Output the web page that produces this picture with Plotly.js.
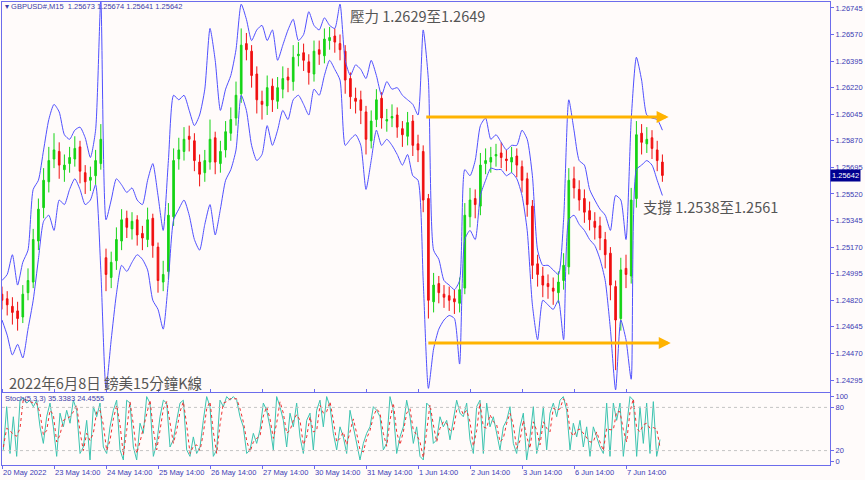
<!DOCTYPE html>
<html><head><meta charset="utf-8">
<script src="https://cdn.plot.ly/plotly-3.0.1.min.js"></script>
<style>html,body{margin:0;padding:0;background:#fffbfa;}#chart{width:865px;height:480px;}</style>
</head><body><div id="chart"></div>
<script>
// ---- data (GBPUSD M15, aggregated bars) ----
const tickLabels = ['20 May 2022','23 May 14:00','24 May 14:00','25 May 14:00','26 May 14:00','27 May 14:00','30 May 14:00','31 May 14:00','1 Jun 14:00','2 Jun 14:00','3 Jun 14:00','6 Jun 14:00','7 Jun 14:00'];
const tickBars = [0,10,20,30,40,50,60,70,80,90,100,110,120];
const priceTicks = [1.24295,1.24470,1.24645,1.24820,1.24995,1.25170,1.25345,1.25520,1.25695,1.25870,1.26045,1.26220,1.26395,1.26570,1.26745];

const openP = [1.2486,1.2483,1.2478,1.2475,1.2471,1.2487,1.2494,1.2521,1.2543,1.2560,
1.2575,1.2580,1.2568,1.2572,1.2575,1.2583,1.2566,1.2561,1.2564,1.2572,
1.2510,1.2497,1.2508,1.2521,1.2536,1.2529,1.2535,1.2526,1.2522,1.2536,
1.2517,1.2494,1.2501,1.2537,1.2575,1.2580,1.2590,1.2587,1.2573,1.2566,
1.2573,1.2589,1.2572,1.2581,1.2592,1.2602,1.2618,1.2651,1.2646,1.2631,
1.2613,1.2610,1.2623,1.2613,1.2621,1.2629,1.2626,1.2643,1.2645,1.2639,
1.2631,1.2647,1.2643,1.2653,1.2656,1.2651,1.2646,1.2628,1.2615,1.2614,
1.2606,1.2587,1.2601,1.2615,1.2600,1.2602,1.2604,1.2595,1.2590,1.2600,
1.2585,1.2580,1.2549,1.2481,1.2493,1.2486,1.2485,1.2483,1.2480,1.2490,
1.2537,1.2549,1.2544,1.2572,1.2573,1.2577,1.2579,1.2575,1.2573,1.2577,
1.2570,1.2562,1.2544,1.2506,1.2498,1.2493,1.2490,1.2487,1.2495,1.2504,
1.2562,1.2555,1.2549,1.2541,1.2534,1.2531,1.2522,1.2513,1.2491,1.2470,
1.2503,1.2498,1.2549,1.2592,1.2585,1.2589,1.2581,1.2573];
const highP = [1.2491,1.2488,1.2484,1.2481,1.2492,1.2503,1.2529,1.2549,1.2569,1.2583,
1.2592,1.2586,1.2578,1.2583,1.2590,1.2587,1.2571,1.2570,1.2581,1.2598,
1.2516,1.2514,1.2530,1.2542,1.2541,1.2540,1.2538,1.2531,1.2543,1.2539,
1.2520,1.2508,1.2546,1.2582,1.2589,1.2596,1.2597,1.2592,1.2578,1.2581,
1.2601,1.2593,1.2587,1.2600,1.2609,1.2626,1.2661,1.2658,1.2650,1.2636,
1.2620,1.2630,1.2628,1.2629,1.2636,1.2635,1.2650,1.2652,1.2651,1.2644,
1.2653,1.2653,1.2661,1.2662,1.2661,1.2657,1.2650,1.2632,1.2622,1.2620,
1.2610,1.2607,1.2621,1.2619,1.2608,1.2611,1.2609,1.2600,1.2606,1.2604,
1.2591,1.2584,1.2552,1.2500,1.2498,1.2492,1.2491,1.2489,1.2497,1.2546,
1.2556,1.2555,1.2579,1.2582,1.2583,1.2585,1.2586,1.2581,1.2583,1.2582,
1.2574,1.2566,1.2548,1.2512,1.2504,1.2499,1.2497,1.2501,1.2513,1.2569,
1.2570,1.2561,1.2555,1.2547,1.2540,1.2537,1.2527,1.2517,1.2495,1.2510,
1.2512,1.2556,1.2600,1.2598,1.2596,1.2594,1.2587,1.2578];
const lowP = [1.2476,1.2472,1.2466,1.2462,1.2467,1.2482,1.2490,1.2515,1.2536,1.2553,
1.2569,1.2562,1.2560,1.2566,1.2570,1.2559,1.2552,1.2554,1.2558,1.2568,
1.2488,1.2490,1.2502,1.2515,1.2523,1.2522,1.2518,1.2515,1.2517,1.2510,
1.2487,1.2488,1.2496,1.2531,1.2568,1.2574,1.2580,1.2567,1.2557,1.2560,
1.2568,1.2565,1.2566,1.2576,1.2587,1.2597,1.2612,1.2640,1.2622,1.2605,
1.2601,1.2604,1.2606,1.2608,1.2615,1.2619,1.2620,1.2636,1.2633,1.2624,
1.2626,1.2637,1.2638,1.2647,1.2645,1.2640,1.2618,1.2608,1.2605,1.2598,
1.2578,1.2582,1.2596,1.2595,1.2593,1.2596,1.2589,1.2583,1.2584,1.2577,
1.2573,1.2540,1.2470,1.2474,1.2480,1.2477,1.2475,1.2473,1.2474,1.2486,
1.2530,1.2536,1.2538,1.2565,1.2566,1.2570,1.2569,1.2567,1.2566,1.2563,
1.2553,1.2537,1.2496,1.2491,1.2484,1.2483,1.2479,1.2480,1.2489,1.2499,
1.2549,1.2541,1.2533,1.2528,1.2522,1.2515,1.2503,1.2482,1.2436,1.2462,
1.2490,1.2493,1.2543,1.2578,1.2579,1.2575,1.2567,1.2560];
const closeP = [1.2482,1.2479,1.2474,1.2470,1.2486,1.2495,1.2522,1.2542,1.2561,1.2574,
1.2581,1.2571,1.2571,1.2576,1.2582,1.2567,1.2560,1.2563,1.2574,1.2588,
1.2499,1.2507,1.2522,1.2535,1.2530,1.2534,1.2525,1.2523,1.2535,1.2518,
1.2495,1.2499,1.2538,1.2574,1.2581,1.2588,1.2588,1.2574,1.2565,1.2574,
1.2588,1.2573,1.2580,1.2593,1.2601,1.2617,1.2650,1.2647,1.2630,1.2614,
1.2611,1.2622,1.2614,1.2622,1.2628,1.2627,1.2642,1.2644,1.2640,1.2632,
1.2646,1.2644,1.2654,1.2655,1.2652,1.2647,1.2627,1.2616,1.2613,1.2607,
1.2588,1.2600,1.2614,1.2602,1.2601,1.2603,1.2596,1.2591,1.2599,1.2584,
1.2581,1.2548,1.2482,1.2492,1.2487,1.2484,1.2482,1.2481,1.2489,1.2538,
1.2548,1.2545,1.2571,1.2574,1.2576,1.2578,1.2576,1.2574,1.2576,1.2571,
1.2561,1.2545,1.2505,1.2499,1.2492,1.2491,1.2488,1.2494,1.2505,1.2561,
1.2556,1.2548,1.2540,1.2535,1.2530,1.2523,1.2512,1.2492,1.2469,1.2502,
1.2499,1.2548,1.2591,1.2586,1.2588,1.2582,1.2574,1.25642];

const bandUpper = [1.2495,1.2499,1.2512,1.2492,1.2507,1.2515,1.2555,1.2561,1.2581,1.2601,
1.2611,1.2606,1.2591,1.2588,1.2594,1.2596,1.2589,1.2576,1.2594,1.2680,
1.2535,1.2548,1.2562,1.2558,1.2553,1.2556,1.2548,1.2545,1.2561,1.2572,
1.2551,1.2528,1.2574,1.2617,1.2614,1.2617,1.2607,1.2597,1.2604,1.2621,
1.2661,1.2640,1.2607,1.2621,1.2630,1.2647,1.2677,1.2667,1.2653,1.2660,
1.2663,1.2653,1.2660,1.2640,1.2650,1.2660,1.2667,1.2653,1.2657,1.2672,
1.2663,1.2660,1.2668,1.2663,1.2661,1.2677,1.2640,1.2630,1.2637,1.2634,
1.2628,1.2640,1.2630,1.2617,1.2626,1.2621,1.2622,1.2617,1.2614,1.2611,
1.2604,1.2660,1.2627,1.2515,1.2509,1.2495,1.2492,1.2489,1.2495,1.2568,
1.2564,1.2574,1.2597,1.2602,1.2588,1.2591,1.2586,1.2581,1.2584,1.2584,
1.2594,1.2588,1.2564,1.2515,1.2505,1.2505,1.2502,1.2499,1.2535,1.2614,
1.2594,1.2574,1.2571,1.2555,1.2548,1.2542,1.2538,1.2528,1.2551,1.2548,
1.2522,1.2601,1.2642,1.2627,1.2604,1.2602,1.2601,1.2594];
const bandLower = [1.2469,1.2459,1.2446,1.2453,1.2444,1.2463,1.2482,1.2509,1.2534,1.2538,
1.2528,1.2548,1.2545,1.2555,1.2562,1.2555,1.2545,1.2548,1.2558,1.2502,
1.2424,1.2456,1.2486,1.2505,1.2501,1.2507,1.2512,1.2509,1.2502,1.2482,
1.2476,1.2463,1.2495,1.2535,1.2542,1.2548,1.2538,1.2522,1.2515,1.2532,
1.2545,1.2525,1.2542,1.2561,1.2568,1.2581,1.2617,1.2607,1.2584,1.2574,
1.2578,1.2597,1.2584,1.2594,1.2607,1.2601,1.2614,1.2617,1.2611,1.2604,
1.2621,1.2617,1.2630,1.2640,1.2634,1.2627,1.2584,1.2588,1.2591,1.2584,
1.2555,1.2574,1.2594,1.2584,1.2588,1.2584,1.2578,1.2571,1.2578,1.2564,
1.2561,1.2495,1.2424,1.2450,1.2463,1.2469,1.2472,1.2470,1.2440,1.2522,
1.2528,1.2522,1.2551,1.2561,1.2569,1.2568,1.2568,1.2564,1.2566,1.2562,
1.2551,1.2528,1.2479,1.2456,1.2482,1.2479,1.2476,1.2482,1.2456,1.2535,
1.2538,1.2532,1.2528,1.2522,1.2518,1.2509,1.2495,1.2463,1.2423,1.2469,
1.2456,1.2430,1.2568,1.2571,1.2574,1.2571,1.2561,1.2551];

const stochK = [21,81,16,67,12,90,93,86,90,81,
90,53,30,67,86,53,12,72,53,76,
58,90,76,16,25,62,7,81,67,86,
25,16,53,76,90,21,7,90,86,25,
7,58,44,95,86,12,30,67,90,86,
25,35,62,86,90,21,12,39,16,25,
62,95,81,12,21,90,81,95,90,95,
90,67,53,16,21,44,30,49,86,76,
53,21,95,81,62,25,72,53,86,39,
16,62,72,21,76,90,53,95,81,44,
21,53,39,16,76,53,35,7,30,44,
53,81,76,67,21,30,95,76,16,39,
53,90,67,30,53,
12,7,86,81,30,35,67,53,62,35,
62,90,72,67,86,35,16,81,90,16,
86,53,67,44,21,53,62,81,30,16,
53,72,7,39,81,16,39,81,21,72,
86,67,90,95,76,21,58,39,62,25,
53,12,53,39,25,16,86,12,86,62,
86,12,53,95,90,12,81,30,86,16,
88,12,35.34];
const stochD = [25,51,48,42,40,51,92,90,88,86,
86,72,42,48,76,70,32,42,62,64,
67,74,83,46,20,44,34,44,74,76,
56,20,34,64,83,56,14,48,88,56,
16,32,51,70,90,49,21,48,78,88,
56,30,48,74,88,56,16,26,28,20,
44,78,88,46,16,56,86,88,92,92,
92,78,60,34,18,32,37,40,68,81,
64,37,58,88,72,44,48,62,70,62,
28,39,67,46,48,83,72,74,88,62,
32,37,46,28,46,64,44,21,18,37,
48,67,78,72,44,26,62,86,46,28,
46,72,78,48,42,32,10,46,84,56,
32,51,60,58,48,48,76,81,70,76,
60,26,48,86,53,51,70,60,56,32,
37,58,72,56,23,34,62,40,23,60,
48,28,60,51,46,79,76,78,92,86,
48,40,48,50,44,39,32,32,46,32,
20,51,49,49,74,74,49,32,74,92,
51,46,56,58,51,52,50,24.46];

const resistanceLevel = 1.26027, supportLevel = 1.24539;
const lineStartBar = 81.3, lineEndBar = 128.2;
const lastPrice = 1.25642;

// ---- geometry helpers ----
const barIdx = closeP.map((_, i) => i);
const stochStep = 0.641;
const stochX = stochK.map((_, k) => 0.26 + k * stochStep);

const blue = '#5050ff', frame = '#6c6cec', tickCol = '#3c3cb4';
const traces = [
  {type:'scatter', mode:'lines', x:barIdx, y:bandUpper, line:{color:blue, width:1, shape:'spline', smoothing:0.6}, xaxis:'x', yaxis:'y', hoverinfo:'skip'},
  {type:'scatter', mode:'lines', x:barIdx, y:bandLower, line:{color:blue, width:1, shape:'spline', smoothing:0.6}, xaxis:'x', yaxis:'y', hoverinfo:'skip'},
  {type:'candlestick', x:barIdx, open:openP, high:highP, low:lowP, close:closeP, xaxis:'x', yaxis:'y',
   increasing:{line:{color:'#16d416', width:1}, fillcolor:'#16d416'},
   decreasing:{line:{color:'#f01010', width:1}, fillcolor:'#f01010'}, whiskerwidth:0},
  {type:'scatter', mode:'lines', x:stochX, y:stochK, line:{color:'#3cc4b0', width:1}, xaxis:'x', yaxis:'y2'},
  {type:'scatter', mode:'lines', x:stochX, y:stochD, line:{color:'#f03030', width:1, dash:'dot'}, xaxis:'x', yaxis:'y2'}
];

const W = 865, H = 480, mL = 2, mR = 35, mT = 2, mB = 15;
const pw = W - mL - mR, ph = H - mT - mB;
const px = v => (v - mL) / pw, py = v => (H - mB - v) / ph;

const annFont = {family:'Noto Sans CJK TC, Noto Sans, sans-serif', size:14.5, color:'#555555'};
const annotations = [
  {xref:'paper', yref:'paper', x:px(348), y:py(15), xanchor:'left', yanchor:'middle', text:'壓力 1.2629至1.2649', showarrow:false, font:annFont},
  {xref:'paper', yref:'paper', x:px(641), y:py(206), xanchor:'left', yanchor:'middle', text:'支撐 1.2538至1.2561', showarrow:false, font:annFont},
  {xref:'paper', yref:'paper', x:px(7), y:py(382), xanchor:'left', yanchor:'middle', text:'2022年6月8日 鎊美15分鐘K線', showarrow:false, font:annFont},
  {xref:'paper', yref:'paper', x:px(3), y:py(7), xanchor:'left', yanchor:'middle', text:'▾ GBPUSD#,M15  1.25673 1.25674 1.25641 1.25642', showarrow:false, font:{family:'Liberation Sans, Arial', size:7.5, color:'#3c3ca8'}},
  {xref:'paper', yref:'paper', x:px(3), y:py(398), xanchor:'left', yanchor:'middle', text:'Stoch(5,3,3) 35.3383 24.4555', showarrow:false, font:{family:'Liberation Sans, Arial', size:7.5, color:'#3c3ca8'}},
  {xref:'paper', yref:'y', x:1.0, y:lastPrice, xanchor:'left', yanchor:'middle', text:lastPrice.toFixed(5), showarrow:false, bgcolor:'#000090', borderpad:1, font:{family:'Liberation Sans, Arial', size:7.5, color:'#ffffff'}},
  {xref:'x', yref:'y', axref:'x', ayref:'y', x:lineEndBar, y:resistanceLevel, ax:lineStartBar, ay:resistanceLevel, text:'', showarrow:true, arrowhead:2, arrowsize:0.8, arrowwidth:3, arrowcolor:'#ffb300'},
  {xref:'x', yref:'y', axref:'x', ayref:'y', x:lineEndBar + 0.4, y:supportLevel, ax:lineStartBar + 0.4, ay:supportLevel, text:'', showarrow:true, arrowhead:2, arrowsize:0.8, arrowwidth:3, arrowcolor:'#ffb300'}
];

const shapes = [80, 20].map(v => ({type:'line', xref:'paper', yref:'y2', x0:0, x1:1, y0:v, y1:v, line:{color:'#c4c4c4', width:1, dash:'dot'}}));

const tickFont = {family:'Liberation Sans, Arial', size:7.5, color:tickCol};
const layout = {
  width:W, height:H, margin:{l:mL, r:mR, t:mT, b:mB},
  paper_bgcolor:'#fffbfa', plot_bgcolor:'#fffbfa', showlegend:false, boxgap:0.55,
  xaxis:{range:[0, pw/5.2], anchor:'y2', showgrid:false, zeroline:false, showline:true, mirror:'all', linecolor:frame, linewidth:1,
    tickvals:tickBars, ticktext:tickLabels, ticks:'outside', ticklen:3, tickcolor:frame, tickfont:tickFont, tickangle:0, automargin:false,
    ticklabelposition:'outside right', rangeslider:{visible:false}, fixedrange:true},
  yaxis:{domain:[(H-mB-392)/ph, 1], range:[1.24216, 1.26784], side:'right', showgrid:false, zeroline:false, showline:true, mirror:true, automargin:false,
    linecolor:frame, linewidth:1, tickvals:priceTicks, ticktext:priceTicks.map(v=>v.toFixed(5)), ticks:'outside', ticklen:3, tickcolor:frame, tickfont:tickFont},
  yaxis2:{domain:[0, (H-mB-393)/ph], range:[0, 100], side:'right', showgrid:false, zeroline:false, showline:true, mirror:true, automargin:false,
    linecolor:frame, linewidth:1, tickvals:[95, 80, 20, 5], ticktext:['100','80','20','0'], ticks:'outside', ticklen:3, tickcolor:frame, tickfont:tickFont},
  annotations, shapes
};
Plotly.newPlot('chart', traces, layout, {staticPlot:true, displayModeBar:false});
</script></body></html>
